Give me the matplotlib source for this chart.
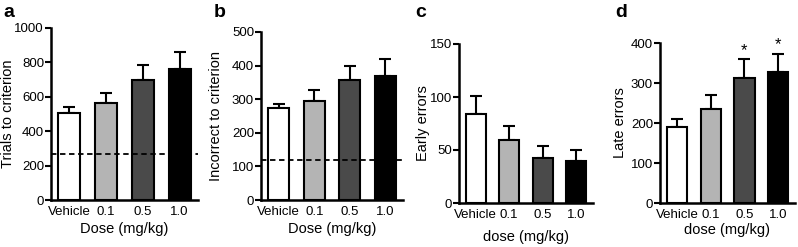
import matplotlib
matplotlib.use("Agg")
import matplotlib.pyplot as plt

plt.rcParams['font.family'] = ['Liberation Sans', 'DejaVu Sans']

doses = ['Vehicle', '0.1', '0.5', '1.0']
colors = ['white', '#b4b4b4', '#4a4a4a', 'black']

trials = [508, 563, 698, 762]
trials_err = [30, 60, 86, 100]
trials_crit = 265

incorrect = [275, 296, 357, 369]
incorrect_err = [12, 31, 43, 50]
incorrect_crit = 118

early = [84, 59, 42, 40]
early_err = [17, 14, 12, 10]

late = [189, 235, 313, 327]
late_err = [21, 34, 46, 46]
late_sig = [False, False, True, True]

W, H = 798, 247
fig = plt.figure(figsize=(W / 100, H / 100), dpi=100)


def make_ax(l, r, b, t):
    return fig.add_axes([l / W, 1 - b / H, (r - l) / W, (b - t) / H])


def bars(ax, vals, errs, ymax, step, ylabel, ylab_x, xlabel, xlab_pad):
    x = range(len(vals))
    ax.bar(x, vals, width=0.6, color=colors, edgecolor='black', linewidth=1.5, zorder=2)
    ax.errorbar(x, vals, yerr=[[0] * len(errs), errs], fmt='none', ecolor='black',
                elinewidth=1.5, capsize=4, capthick=1.5, zorder=1)
    ax.set_xlim(-0.5, 3.5)
    ax.set_ylim(0, ymax)
    ax.set_yticks(range(0, ymax + 1, step))
    ax.set_xticks(list(x))
    ax.set_xticklabels(doses)
    ax.spines['top'].set_visible(False)
    ax.spines['right'].set_visible(False)
    ax.spines['left'].set_linewidth(1.8)
    ax.spines['bottom'].set_linewidth(1.8)
    ax.tick_params(axis='y', direction='out', length=4, width=1.5, labelsize=9.5, pad=1)
    ax.tick_params(axis='x', length=0, labelsize=9.5, pad=4)
    ax.set_ylabel(ylabel, fontsize=10.5)
    # put the y label where the reference has it (x in figure pixels)
    ax.yaxis.set_label_coords(ylab_x / W, 0.5, transform=fig.transFigure)
    ax.yaxis.label.set_y(ax.get_position().y0 + ax.get_position().height / 2)
    ax.set_xlabel(xlabel, fontsize=10.5, labelpad=xlab_pad)


ax_a = make_ax(51, 198, 200, 28)
bars(ax_a, trials, trials_err, 1000, 200, 'Trials to criterion', 15, 'Dose (mg/kg)', 3)
ax_a.axhline(trials_crit, color='black', linestyle=(0, (3, 2)), linewidth=1.3, zorder=3)

ax_b = make_ax(261, 403, 200, 32)
bars(ax_b, incorrect, incorrect_err, 500, 100, 'Incorrect to criterion', 223, 'Dose (mg/kg)', 3)
ax_b.axhline(incorrect_crit, color='black', linestyle=(0, (3, 2)), linewidth=1.3, zorder=3)

ax_c = make_ax(459, 593, 203, 44)
bars(ax_c, early, early_err, 150, 50, 'Early errors', 430, 'dose (mg/kg)', 7)

ax_d = make_ax(660, 795, 203, 43)
bars(ax_d, late, late_err, 400, 100, 'Late errors', 627, 'dose (mg/kg)', 2)
for i, s in enumerate(late_sig):
    if s:
        ax_d.annotate('*', (i, late[i] + late_err[i]), xytext=(0, 1),
                      textcoords='offset points', ha='center', va='bottom', fontsize=12)

for lab, px in zip('abcd', [3, 214, 415, 615]):
    fig.text(px / W, 1 - 4 / H, lab, fontsize=14, fontweight='bold', va='top', ha='left')

fig.savefig('out.png', dpi=100)
